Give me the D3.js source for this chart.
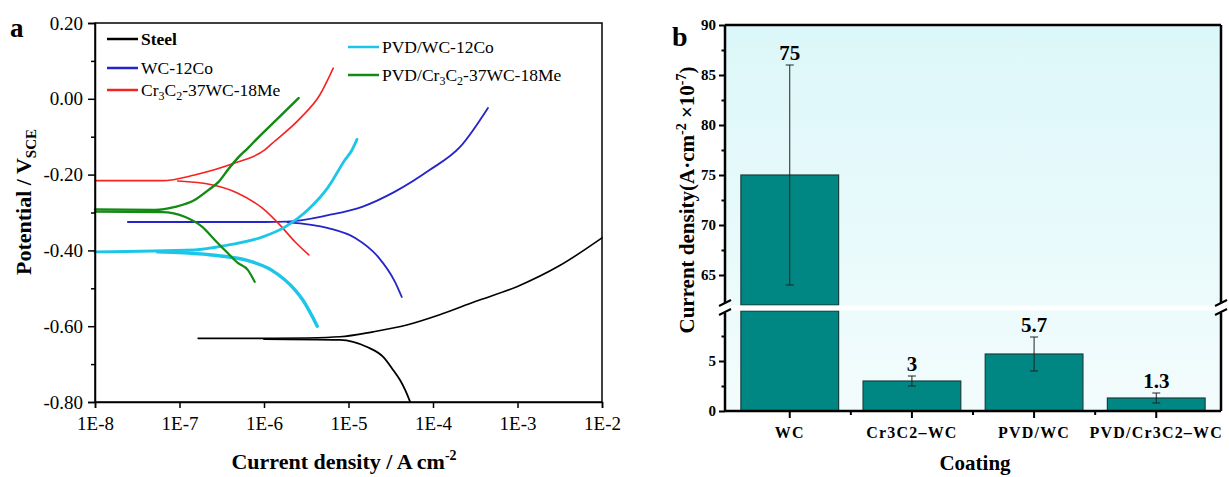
<!DOCTYPE html>
<html>
<head>
<meta charset="utf-8">
<script src="https://cdn.jsdelivr.net/npm/d3@7"></script>
<style>
  body { margin: 0; background: #fff; }
  text { font-family: "Liberation Serif", "Times New Roman", serif; }
</style>
</head>
<body>
<svg id="chart" width="1229" height="477"></svg>
<script>
// ---- panel a data: [current density A/cm2, potential V]
var steelAnodic   = [[1.66e-7,-0.632],[1e-6,-0.632],[3.16e-6,-0.631],[7.9e-6,-0.628],[1.95e-5,-0.615],[4.9e-5,-0.597],[1.2e-4,-0.57],[3.16e-4,-0.535],[1e-3,-0.495],[3.16e-3,-0.44],[1e-2,-0.367]];
var steelCathodic = [[1e-6,-0.634],[7.9e-6,-0.636],[1.66e-5,-0.655],[2.57e-5,-0.681],[3.39e-5,-0.716],[4.07e-5,-0.742],[4.68e-5,-0.768],[5.37e-5,-0.80]];
var wcAnodic      = [[2.45e-8,-0.325],[1e-6,-0.325],[1.9e-6,-0.324],[5.75e-6,-0.307],[1.45e-5,-0.285],[3.55e-5,-0.245],[9.1e-5,-0.188],[2.09e-4,-0.127],[4.47e-4,-0.024]];
var wcCathodic    = [[1.9e-6,-0.326],[5.75e-6,-0.341],[1.2e-5,-0.367],[2.24e-5,-0.417],[3.55e-5,-0.483],[4.27e-5,-0.523]];
var crAnodic      = [[1e-8,-0.216],[6.3e-8,-0.216],[1.51e-7,-0.201],[4.57e-7,-0.169],[1.02e-6,-0.135],[1.23e-6,-0.119],[2.69e-6,-0.051],[4.57e-6,0.01],[6.6e-6,0.081]];
var crCathodic    = [[9.5e-8,-0.217],[2.4e-7,-0.227],[4.9e-7,-0.249],[9.5e-7,-0.288],[1.62e-6,-0.338],[2.34e-6,-0.378],[3.39e-6,-0.412]];
var pvdWcAnodic   = [[1e-8,-0.404],[1.51e-7,-0.399],[3.72e-7,-0.386],[9.5e-7,-0.365],[1.78e-6,-0.338],[3.31e-6,-0.293],[5.75e-6,-0.233],[9.1e-6,-0.161],[1.1e-5,-0.135],[1.26e-5,-0.107]];
var pvdWcCathodic = [[5.5e-8,-0.404],[2.4e-7,-0.412],[6.0e-7,-0.425],[1.23e-6,-0.452],[2.34e-6,-0.505],[2.88e-6,-0.531],[4.27e-6,-0.60]];
var pvdCrAnodic   = [[1e-8,-0.292],[5.1e-8,-0.293],[8.9e-8,-0.285],[1.51e-7,-0.267],[2.19e-7,-0.241],[2.88e-7,-0.22],[3.72e-7,-0.188],[4.9e-7,-0.156],[6.46e-7,-0.130],[8.3e-7,-0.105],[1.41e-6,-0.055],[2.57e-6,0.002]];
var pvdCrCathodic = [[1e-8,-0.298],[6.2e-8,-0.299],[1.17e-7,-0.312],[1.86e-7,-0.338],[2.63e-7,-0.373],[3.72e-7,-0.407],[4.9e-7,-0.433],[6.46e-7,-0.452],[7.76e-7,-0.483]];

var xTicksA = [1e-8, 1e-7, 1e-6, 1e-5, 1e-4, 1e-3, 1e-2];
var xTickLabelsA = ["1E-8", "1E-7", "1E-6", "1E-5", "1E-4", "1E-3", "1E-2"];
var yTicksA = [0.2, 0, -0.2, -0.4, -0.6, -0.8];
var yMinorA = [0.1, -0.1, -0.3, -0.5, -0.7];

// ---- panel b data
var coatings = ["WC", "Cr3C2\u2013WC", "PVD/WC", "PVD/Cr3C2\u2013WC"];
var currents = [75, 3, 5.7, 1.3];
var errLow = [64, 2.5, 4.0, 0.8];
var errHigh = [86, 3.5, 7.4, 1.8];
var valueLabels = ["75", "3", "5.7", "1.3"];
var yTicksUpper = [65, 70, 75, 80, 85, 90];
var yMinorUpper = [67.5, 72.5, 77.5, 82.5, 87.5];
var yTicksLower = [0, 5];
var yMinorLower = [2.5, 7.5];

var svg = d3.select("#chart");

// ================= panel a =================
var ax0 = 95, ax1 = 602, ay0 = 23, ay1 = 402;
var xA = d3.scaleLog().domain([1e-8, 1e-2]).range([ax0, ax1]);
var yA = d3.scaleLinear().domain([-0.8, 0.2]).range([ay1, ay0]);

var gA = svg.append("g");

var line = d3.line()
  .x(function (d) { return xA(d[0]) })
  .y(function (d) { return yA(d[1]) })
  .curve(d3.curveMonotoneX);

var curves = [
  { data: steelAnodic, color: "#000000", w: 1.6 },
  { data: steelCathodic, color: "#000000", w: 1.8 },
  { data: wcAnodic, color: "#2424c8", w: 1.8 },
  { data: wcCathodic, color: "#2424c8", w: 1.8 },
  { data: crAnodic, color: "#f52222", w: 1.6 },
  { data: crCathodic, color: "#f52222", w: 1.6 },
  { data: pvdWcAnodic, color: "#1cc6e8", w: 2.8 },
  { data: pvdWcCathodic, color: "#1cc6e8", w: 3.4 },
  { data: pvdCrAnodic, color: "#138a13", w: 2.4 },
  { data: pvdCrCathodic, color: "#138a13", w: 2.2 }
];

gA.selectAll("path.curve")
  .data(curves)
  .enter().append("path")
    .attr("class", "curve")
    .attr("d", function (c) { return line(c.data) })
    .attr("fill", "none")
    .attr("stroke", function (c) { return c.color })
    .attr("stroke-width", function (c) { return c.w })
    .attr("stroke-linecap", "round");

// frame
gA.append("rect")
  .attr("x", ax0).attr("y", ay0)
  .attr("width", ax1 - ax0).attr("height", ay1 - ay0)
  .attr("fill", "none").attr("stroke", "#000").attr("stroke-width", 1.5);

var xAxisA = d3.axisBottom(xA)
  .tickValues(xTicksA)
  .tickFormat(function (d, i) { return xTickLabelsA[i] })
  .tickSize(6).tickPadding(9);
gA.append("g")
  .attr("transform", "translate(0," + ay1 + ")")
  .call(xAxisA)
  .call(function (g) {
    g.select(".domain").attr("stroke-width", 1.5);
    g.selectAll(".tick line").attr("stroke-width", 1.5);
    g.selectAll(".tick text").attr("font-size", 19).attr("font-family", "Liberation Serif").attr("fill", "#000");
  });

var yAxisA = d3.axisLeft(yA)
  .tickValues(yTicksA)
  .tickFormat(function (d) { return d.toFixed(2) })
  .tickSize(7).tickPadding(5);
gA.append("g")
  .attr("transform", "translate(" + ax0 + ",0)")
  .call(yAxisA)
  .call(function (g) {
    g.select(".domain").attr("stroke-width", 1.5);
    g.selectAll(".tick line").attr("stroke-width", 1.5);
    g.selectAll(".tick text").attr("font-size", 19).attr("font-family", "Liberation Serif").attr("fill", "#000");
  });
gA.append("g")
  .attr("transform", "translate(" + ax0 + ",0)")
  .call(d3.axisLeft(yA).tickValues(yMinorA).tickFormat("").tickSize(4))
  .call(function (g) {
    g.select(".domain").remove();
    g.selectAll(".tick line").attr("stroke-width", 1.5);
  });

// legend
var legendA = [
  { label: "Steel", color: "#000000", x: 107, y: 39, bold: true },
  { label: "WC-12Co", color: "#2424c8", x: 107, y: 68 },
  { label: "CR", color: "#f52222", x: 107, y: 90 },
  { label: "PVD/WC-12Co", color: "#1cc6e8", x: 348, y: 47 },
  { label: "PVDCR", color: "#138a13", x: 348, y: 75 }
];
legendA.forEach(function (l) {
  gA.append("line")
    .attr("x1", l.x).attr("x2", l.x + 31)
    .attr("y1", l.y).attr("y2", l.y)
    .attr("stroke", l.color).attr("stroke-width", 2.5);
  var t = gA.append("text")
    .attr("x", l.x + 34).attr("y", l.y + 6)
    .attr("font-size", 17.5)
    .attr("font-weight", l.bold ? "bold" : "normal");
  if (l.label === "CR" || l.label === "PVDCR") {
    if (l.label === "PVDCR") t.append("tspan").text("PVD/");
    t.append("tspan").text("Cr");
    t.append("tspan").attr("dy", 4).attr("font-size", 12).text("3");
    t.append("tspan").attr("dy", -4).text("C");
    t.append("tspan").attr("dy", 4).attr("font-size", 12).text("2");
    t.append("tspan").attr("dy", -4).text("-37WC-18Me");
  } else {
    t.text(l.label);
  }
});

// titles
gA.append("text")
  .attr("x", 10).attr("y", 37)
  .attr("font-size", 27).attr("font-weight", "bold").text("a");

var yTitleA = gA.append("text")
  .attr("transform", "translate(31,202) rotate(-90)")
  .attr("text-anchor", "middle")
  .attr("font-size", 22).attr("font-weight", "bold");
yTitleA.append("tspan").text("Potential / V");
yTitleA.append("tspan").attr("dy", 5).attr("font-size", 15).text("SCE");

var xTitleA = gA.append("text")
  .attr("x", 344).attr("y", 469)
  .attr("text-anchor", "middle")
  .attr("font-size", 22).attr("font-weight", "bold");
xTitleA.append("tspan").text("Current density / A cm");
xTitleA.append("tspan").attr("dy", -9).attr("font-size", 14).text("-2");

// ================= panel b =================
var bx0 = 725, bx1 = 1221, by0 = 25, by1 = 411;
var breakTop = 305, breakBot = 311;
var xB = d3.scaleBand().domain(coatings).range([bx0, bx1]).paddingInner(0.2).paddingOuter(0.13);
var yUp = d3.scaleLinear().domain([62, 90]).range([breakTop, by0]);
var yLo = d3.scaleLinear().domain([0, 10]).range([by1, breakBot]);

var gB = svg.append("g");

var grad = svg.append("defs").append("linearGradient")
  .attr("id", "bg").attr("x1", 0).attr("y1", 0).attr("x2", 0).attr("y2", 1);
grad.append("stop").attr("offset", "0%").attr("stop-color", "#dcf7f9");
grad.append("stop").attr("offset", "100%").attr("stop-color", "#f3fcfd");

gB.append("rect")
  .attr("x", bx0).attr("y", by0)
  .attr("width", bx1 - bx0).attr("height", by1 - by0)
  .attr("fill", "url(#bg)");

var barFill = "#008784", barStroke = "#17403f";

// lower segment bars
gB.selectAll("rect.lo")
  .data(currents)
  .enter().append("rect")
    .attr("class", "lo")
    .attr("x", function (d, i) { return xB(coatings[i]) })
    .attr("width", xB.bandwidth())
    .attr("y", function (d) { return yLo(Math.min(d, 10)) })
    .attr("height", function (d) { return yLo(0) - yLo(Math.min(d, 10)) })
    .attr("fill", barFill).attr("stroke", barStroke).attr("stroke-width", 1.2);

// upper segment bars (only values above the break)
var upIdx = currents.map(function (d, i) { return i }).filter(function (i) { return currents[i] > 62 });
gB.selectAll("rect.up")
  .data(upIdx)
  .enter().append("rect")
    .attr("class", "up")
    .attr("x", function (i) { return xB(coatings[i]) })
    .attr("width", xB.bandwidth())
    .attr("y", function (i) { return yUp(currents[i]) })
    .attr("height", function (i) { return yUp(62) - yUp(currents[i]) })
    .attr("fill", barFill).attr("stroke", barStroke).attr("stroke-width", 1.2);

// break gap
gB.append("rect")
  .attr("x", bx0).attr("y", breakTop + 0.5)
  .attr("width", bx1 - bx0).attr("height", breakBot - breakTop - 1)
  .attr("fill", "#ffffff");

// error bars
function yVal(v) { return v > 10 ? yUp(v) : yLo(v) }
currents.forEach(function (d, i) {
  var cx = xB(coatings[i]) + xB.bandwidth() / 2;
  var g = gB.append("g").attr("stroke", "#222").attr("stroke-width", 1);
  g.append("line").attr("x1", cx).attr("x2", cx).attr("y1", yVal(errLow[i])).attr("y2", yVal(errHigh[i]));
  g.append("line").attr("x1", cx - 4).attr("x2", cx + 4).attr("y1", yVal(errLow[i])).attr("y2", yVal(errLow[i]));
  g.append("line").attr("x1", cx - 4).attr("x2", cx + 4).attr("y1", yVal(errHigh[i])).attr("y2", yVal(errHigh[i]));
  gB.append("text")
    .attr("x", cx).attr("y", yVal(errHigh[i]) - 5)
    .attr("text-anchor", "middle")
    .attr("font-size", 21).attr("font-weight", "bold")
    .text(valueLabels[i]);
});

// frame: top, right, bottom, left with gaps at the break
var frame = gB.append("g").attr("stroke", "#000").attr("stroke-width", 2.5).attr("fill", "none");
frame.append("line").attr("x1", bx0).attr("x2", bx1).attr("y1", by0).attr("y2", by0);
frame.append("line").attr("x1", bx0).attr("x2", bx1).attr("y1", by1).attr("y2", by1);
[bx0, bx1].forEach(function (x) {
  frame.append("line").attr("x1", x).attr("x2", x).attr("y1", by0).attr("y2", breakTop - 2);
  frame.append("line").attr("x1", x).attr("x2", x).attr("y1", breakBot + 2).attr("y2", by1);
  frame.append("line").attr("x1", x - 6).attr("x2", x + 6).attr("y1", breakTop + 1).attr("y2", breakTop - 5).attr("stroke-width", 2);
  frame.append("line").attr("x1", x - 6).attr("x2", x + 6).attr("y1", breakBot + 4).attr("y2", breakBot - 2).attr("stroke-width", 2);
});

function styleB(g) {
  g.select(".domain").remove();
  g.selectAll(".tick line").attr("stroke-width", 2);
  g.selectAll(".tick text").attr("font-size", 15).attr("font-weight", "bold").attr("font-family", "Liberation Serif").attr("fill", "#000");
}
gB.append("g").attr("transform", "translate(" + bx0 + ",0)")
  .call(d3.axisLeft(yUp).tickValues(yTicksUpper).tickSize(6).tickPadding(3)).call(styleB);
gB.append("g").attr("transform", "translate(" + bx0 + ",0)")
  .call(d3.axisLeft(yUp).tickValues(yMinorUpper).tickFormat("").tickSize(3.5)).call(styleB);
gB.append("g").attr("transform", "translate(" + bx0 + ",0)")
  .call(d3.axisLeft(yLo).tickValues(yTicksLower).tickSize(6).tickPadding(3)).call(styleB);
gB.append("g").attr("transform", "translate(" + bx0 + ",0)")
  .call(d3.axisLeft(yLo).tickValues(yMinorLower).tickFormat("").tickSize(3.5)).call(styleB);

gB.append("g").attr("transform", "translate(0," + by1 + ")")
  .call(d3.axisBottom(xB).tickSize(7).tickPadding(9))
  .call(styleB)
  .call(function (g) {
    g.selectAll(".tick text").attr("font-size", 16).attr("letter-spacing", 1.2);
  });
// minor ticks between the bars
gB.selectAll("line.xminor")
  .data(coatings.slice(1))
  .enter().append("line")
    .attr("x1", function (c) { return xB(c) - xB.step() * xB.paddingInner() / 2 })
    .attr("x2", function (c) { return xB(c) - xB.step() * xB.paddingInner() / 2 })
    .attr("y1", by1).attr("y2", by1 + 4)
    .attr("stroke", "#000").attr("stroke-width", 2);

gB.append("text")
  .attr("x", 672).attr("y", 46)
  .attr("font-size", 28).attr("font-weight", "bold").text("b");

var yTitleB = gB.append("text")
  .attr("transform", "translate(694,200) rotate(-90)")
  .attr("text-anchor", "middle")
  .attr("font-size", 21).attr("font-weight", "bold");
yTitleB.append("tspan").text("Current density(A\u00b7cm");
yTitleB.append("tspan").attr("dy", -8).attr("font-size", 14).text("-2");
yTitleB.append("tspan").attr("dy", 8).text(" \u00d710");
yTitleB.append("tspan").attr("dy", -8).attr("font-size", 14).text("-7");
yTitleB.append("tspan").attr("dy", 8).text(")");

gB.append("text")
  .attr("x", 975).attr("y", 470)
  .attr("text-anchor", "middle")
  .attr("font-size", 21).attr("font-weight", "bold").text("Coating");
</script>
</body>
</html>
